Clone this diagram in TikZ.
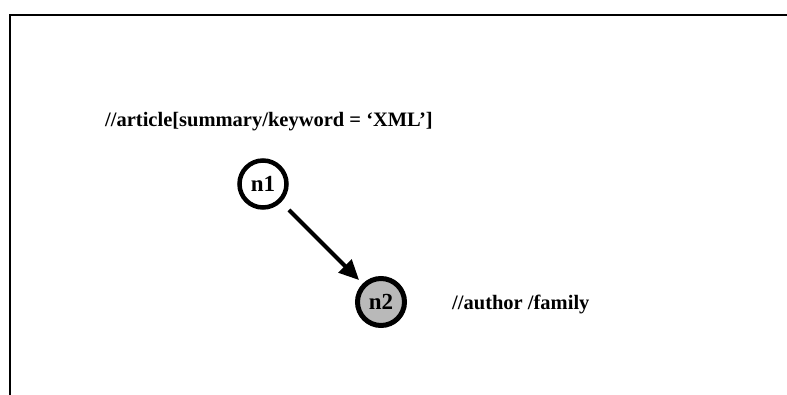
\documentclass[tikz,border=0pt]{standalone}
\usepackage{fontspec}
\setmainfont{Liberation Serif}
\usetikzlibrary{arrows.meta}

\begin{document}
\begin{tikzpicture}[
  x=1pt, y=1pt,
  >={Triangle[length=20pt,width=18pt]},
  state/.style={draw, circle, line width=4.5pt, minimum size=47pt, inner sep=0pt, font=\fontsize{23}{23}\selectfont\bfseries},
  query/.style={anchor=base west, inner sep=0pt, font=\fontsize{20.5}{20.5}\selectfont\bfseries}
]
\useasboundingbox (0,0) rectangle (787,394);

% frame of the panel
\draw[line width=2pt] (10,-5) -- (10,379) -- (792,379);

\node[query] (q1) at (105,267) {//article[summary/keyword = `XML']};

\node[state] (n1) at (263,210) {n1};
\node[state, fill=gray!55, line width=5pt] (n2) at (381,92) {n2};

\node[query] (q2) at (452,85) {//author /family};

\draw[->, line width=4pt, shorten <=11pt, shorten >=5pt] (n1) -- (n2);

\end{tikzpicture}
\end{document}
